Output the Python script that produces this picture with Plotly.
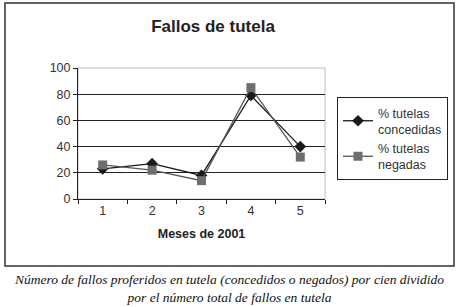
import plotly.graph_objects as go

meses = ["1", "2", "3", "4", "5"]
concedidas = [23, 27, 18, 79, 40]
negadas = [26, 22, 14, 85, 32]
y_ticks = [0, 20, 40, 60, 80, 100]

fig = go.Figure()
fig.add_trace(go.Scatter(
    x=meses, y=concedidas, mode="lines+markers",
    name="% tutelas<br>concedidas",
    line=dict(color="#1a1a1a", width=1.3),
    marker=dict(symbol="diamond", size=9, color="#1a1a1a"),
))
fig.add_trace(go.Scatter(
    x=meses, y=negadas, mode="lines+markers",
    name="% tutelas<br>negadas",
    line=dict(color="#555555", width=1.3),
    marker=dict(symbol="square", size=9, color="#6e6e6e"),
))

font_family = "Liberation Sans, Arial, sans-serif"

fig.update_layout(
    width=458, height=307,
    margin=dict(l=78, r=133, t=68, b=108, autoexpand=False),
    paper_bgcolor="white", plot_bgcolor="white",
    font=dict(family=font_family, size=12, color="#222"),
    title=dict(text="<b>Fallos de tutela</b>", x=(213 - 78) / 247, xref="paper",
               xanchor="center", y=1 - 26 / 307, yanchor="middle",
               font=dict(size=17, family=font_family, color="#222")),
    showlegend=True,
    legend=dict(x=(337 - 78) / 247, y=(199 - 97) / 131, xanchor="left", yanchor="top",
                bordercolor="#222", borderwidth=1, bgcolor="white",
                font=dict(size=12.5, family=font_family, color="#333"),
                tracegroupgap=0, itemwidth=30),
    xaxis=dict(type="category", range=[-0.5, 4.5], tickson="boundaries", ticks="outside",
               ticklen=4, tickcolor="#222", showline=True, linecolor="#222",
               linewidth=1, showgrid=False, automargin=False,
               title=dict(text="<b>Meses de 2001</b>", standoff=12,
                          font=dict(size=12.5, family=font_family, color="#222")),
               tickfont=dict(size=12.5, color="#333")),
    yaxis=dict(range=[0, 100], tickvals=y_ticks, ticks="outside", ticklen=4,
               tickcolor="#222", showline=True, linecolor="#222", linewidth=1,
               gridcolor="#222", gridwidth=1, zeroline=False, automargin=False,
               tickfont=dict(size=12.5, color="#333")),
    shapes=[
        dict(type="rect", xref="paper", yref="paper", x0=0, x1=1, y0=0, y1=1,
             line=dict(color="#bbbbbb", width=1), layer="below"),
        dict(type="rect", xref="paper", yref="paper",
             x0=(5 - 78) / 247, x1=(454 - 78) / 247,
             y0=(199 - 266) / 131, y1=(199 - 3) / 131,
             line=dict(color="#333", width=1.5)),
    ],
    annotations=[
        dict(text="<i>Número de fallos proferidos en tutela (concedidos o negados) por cien dividido<br>por el número total de fallos en tutela</i>",
             xref="paper", yref="paper", x=(229 - 78) / 247, y=(199 - 288) / 131,
             xanchor="center", yanchor="middle", showarrow=False,
             font=dict(family="Liberation Serif, Times New Roman, serif", size=13.5, color="#111")),
    ],
)

fig.write_html("out.html", config={"displayModeBar": False},
               post_script="document.body.style.margin='0';document.body.style.overflow='hidden';")
